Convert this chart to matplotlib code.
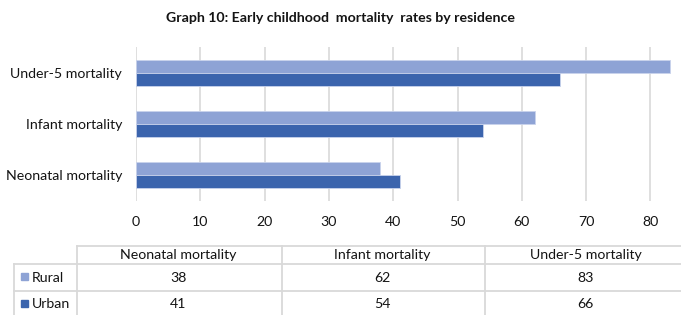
import matplotlib
matplotlib.use("Agg")
import matplotlib.pyplot as plt
from matplotlib.lines import Line2D
from matplotlib.patches import Rectangle
import numpy as np

title = "Graph 10: Early childhood  mortality  rates by residence"
categories = ["Neonatal mortality", "Infant mortality", "Under-5 mortality"]
series_names = ["Rural", "Urban"]
rural = [38, 62, 83]
urban = [41, 54, 66]
xticks = [0, 10, 20, 30, 40, 50, 60, 70, 80]

c_rural = "#8EA3D5"
c_urban = "#3B64AD"
grid_c = "#D9D9D9"
txt_c = "#141414"
FONT = ["Lato", "DejaVu Sans"]
plt.rcParams["font.family"] = FONT

W, H = 681, 315
fig = plt.figure(figsize=(W / 100, H / 100), dpi=100)

def fx(px):
    return px / W

def fy(py):
    return 1 - py / H

ax_l, ax_r, ax_t, ax_b = 136, 671, 47, 201
ax = fig.add_axes([fx(ax_l), fy(ax_b), fx(ax_r - ax_l), (ax_b - ax_t) / H])

y = np.arange(len(categories))
bh = 0.255
ax.barh(y + bh / 2, rural, height=bh, color=c_rural, edgecolor="#C9D3EC", linewidth=0.6, zorder=3)
ax.barh(y - bh / 2, urban, height=bh, color=c_urban, edgecolor="#C9D3EC", linewidth=0.6, zorder=3)
ax.set_xlim(0, 83.2)
ax.set_ylim(-0.5, len(categories) - 0.5)
ax.set_yticks(y)
ax.set_yticklabels(categories, fontsize=10.2, color=txt_c)
ax.set_xticks(xticks)
ax.set_xticklabels([str(t) for t in xticks], fontsize=10.2, color=txt_c)
ax.tick_params(length=0)
ax.tick_params(axis="y", pad=10)
ax.tick_params(axis="x", pad=11)
for s in ax.spines.values():
    s.set_visible(False)
ax.grid(axis="x", color=grid_c, linewidth=1.2, zorder=0)
ax.set_axisbelow(True)

fig.text(0.5, fy(18), title, ha="center", va="center", fontsize=10.2, fontweight="bold", color=txt_c)

# data table
tab = fig.add_axes([0, 0, 1, 1])
tab.set_xlim(0, W)
tab.set_ylim(H, 0)
tab.axis("off")

col_x = [77, 282, 485, 688]
row_y = [246, 264, 291, 318]
left_x = 14
lw = 1.3
tab.add_line(Line2D([col_x[0], W], [row_y[0], row_y[0]], color=grid_c, lw=lw))
for ry in row_y[1:3]:
    tab.add_line(Line2D([left_x, W], [ry, ry], color=grid_c, lw=lw))
for cx in col_x[:3]:
    tab.add_line(Line2D([cx, cx], [row_y[0], H], color=grid_c, lw=lw))
tab.add_line(Line2D([left_x, left_x], [row_y[1], H], color=grid_c, lw=lw))

for i, cat in enumerate(categories):
    cx = (col_x[i] + col_x[i + 1]) / 2 - 1
    tab.text(cx, (row_y[0] + row_y[1]) / 2, cat, ha="center", va="center", fontsize=10.2, color=txt_c)

for r, (name, vals, col) in enumerate(zip(series_names, [rural, urban], [c_rural, c_urban])):
    cy = (row_y[r + 1] + row_y[r + 2]) / 2
    tab.add_patch(Rectangle((21, cy - 5), 7, 7, color=col))
    tab.text(32, cy, name, ha="left", va="center", fontsize=10.2, color=txt_c)
    for i, v in enumerate(vals):
        cx = (col_x[i] + col_x[i + 1]) / 2 - 1
        tab.text(cx, cy, str(v), ha="center", va="center", fontsize=10.2, color=txt_c)

fig.savefig("out.png", dpi=100)
